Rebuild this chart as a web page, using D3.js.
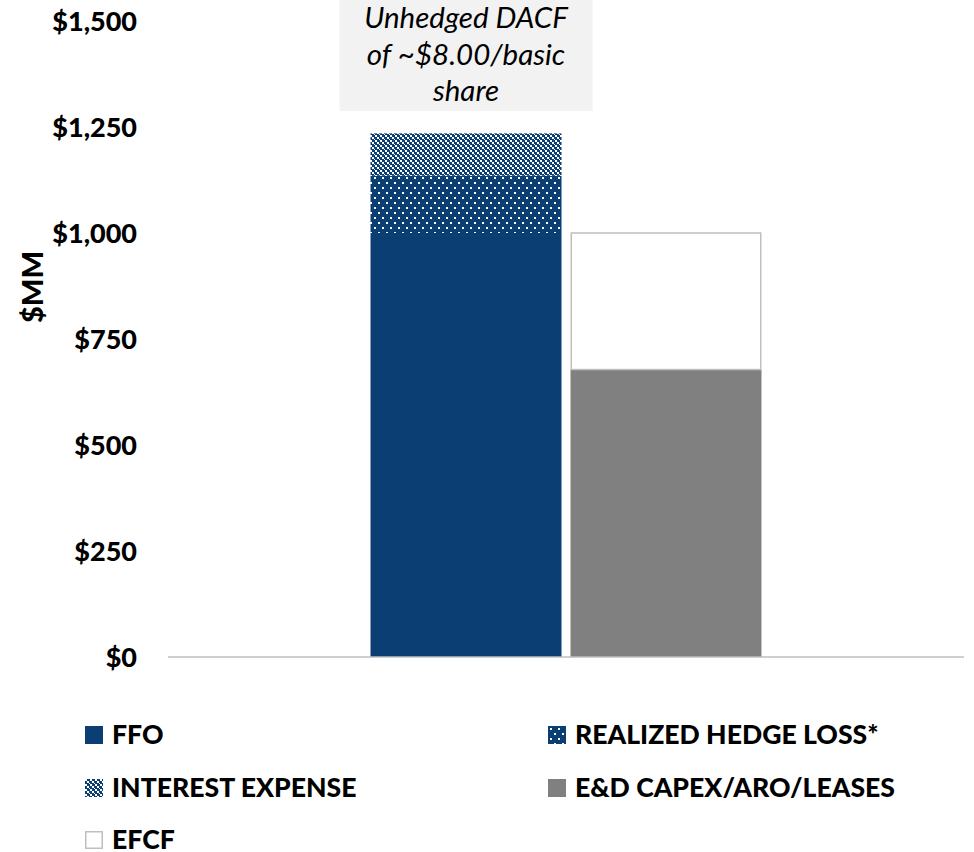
<!DOCTYPE html>
<html>
<head>
<meta charset="utf-8">
<script src="https://cdn.jsdelivr.net/npm/d3@7"></script>
<style>
  body { margin: 0; background: #fff; }
  svg text { font-family: Lato, "Open Sans", sans-serif; }
</style>
</head>
<body>
<svg width="974" height="852"></svg>
<script>
// bars (two stacked columns)
var bars = ["sources", "uses"];
var seriesNames = ["FFO", "REALIZED HEDGE LOSS*", "INTEREST EXPENSE", "E&D CAPEX/ARO/LEASES", "EFCF"];
var seriesBar = ["sources", "sources", "sources", "uses", "uses"];
var seriesValues = [1000, 135, 100, 678, 322];
var yTicks = [0, 250, 500, 750, 1000, 1250, 1500];
var noteLines = ["Unhedged DACF", "of ~$8.00/basic", "share"];

var NAVY = "#0b3e73";

var svg = d3.select("svg"),
    width = +svg.attr("width"),
    height = +svg.attr("height");

var plot = {left: 168, right: 964, top: 21, bottom: 657};

var y = d3.scaleLinear().domain([0, 1500]).range([plot.bottom, plot.top]);
var x0 = d3.scaleBand().domain(["all"]).range([plot.left, plot.right])
    .paddingInner(0).paddingOuter(0.518);
var x1 = d3.scaleBand().domain(bars).range([0, x0.bandwidth()]).paddingInner(0.045);

// patterns (integer aligned so the pixels stay crisp)
var defs = svg.append("defs");
var dots = defs.append("pattern").attr("id", "dots")
    .attr("patternUnits", "userSpaceOnUse").attr("width", 8).attr("height", 10)
    .attr("x", 2).attr("y", 2);
dots.append("rect").attr("width", 8).attr("height", 10).attr("fill", NAVY);
dots.append("rect").attr("x", 0).attr("y", 0).attr("width", 2).attr("height", 2).attr("fill", "#fff");
dots.append("rect").attr("x", 4).attr("y", 5).attr("width", 2).attr("height", 2).attr("fill", "#fff");

var checks = defs.append("pattern").attr("id", "checks")
    .attr("patternUnits", "userSpaceOnUse").attr("width", 5).attr("height", 5)
    .attr("x", 0).attr("y", 0);
checks.append("rect").attr("width", 5).attr("height", 5).attr("fill", NAVY);
checks.append("rect").attr("x", 0).attr("y", 0).attr("width", 2).attr("height", 2).attr("fill", "#fff");
checks.append("rect").attr("x", 2).attr("y", 2).attr("width", 2).attr("height", 2).attr("fill", "#fff");
checks.append("rect").attr("x", 4).attr("y", 4).attr("width", 1).attr("height", 1).attr("fill", "#fff");

var fills = ["#0b3e73", "url(#dots)", "url(#checks)", "#808080", "#ffffff"];
var strokes = ["none", "none", "none", "none", "#bfbfbf"];

// stack the segments per bar
var segs = [];
var base = {};
seriesNames.forEach(function(name, i) {
  var b = seriesBar[i];
  var y0 = base[b] || 0;
  segs.push({name: name, bar: b, y0: y0, y1: y0 + seriesValues[i], i: i});
  base[b] = y0 + seriesValues[i];
});

// annotation box over first bar
var boxW = 253;
var cx = x0("all") + x1("sources") + x1.bandwidth() / 2;
svg.append("rect")
  .attr("x", cx - boxW / 2).attr("y", -5)
  .attr("width", boxW).attr("height", 116)
  .attr("fill", "#f2f2f2");
svg.append("g").selectAll("text")
  .data(noteLines)
  .enter().append("text")
  .attr("x", cx)
  .attr("y", function(d, i) { return 28 + i * 36.5; })
  .attr("text-anchor", "middle")
  .style("font-style", "italic")
  .style("font-size", "29.5px")
  .attr("fill", "#000")
  .text(function(d) { return d; });

// bars
svg.append("g").selectAll("rect")
  .data(segs)
  .enter().append("rect")
  .attr("x", function(d) { return x0("all") + x1(d.bar) + (d.i == 4 ? 0.75 : 0); })
  .attr("width", function(d) { return x1.bandwidth() - (d.i == 4 ? 1.5 : 0); })
  .attr("y", function(d) { return y(d.y1); })
  .attr("height", function(d) { return y(d.y0) - y(d.y1); })
  .attr("fill", function(d) { return fills[d.i]; })
  .attr("stroke", function(d) { return strokes[d.i]; })
  .attr("stroke-width", 1.5);

// y axis: labels only, no line
var yAxis = svg.append("g")
  .attr("transform", "translate(137,0)")
  .call(d3.axisLeft(y).tickValues(yTicks).tickSize(0).tickPadding(0)
    .tickFormat(function(d) { return "$" + d3.format(",")(d); }));
yAxis.select(".domain").remove();
yAxis.selectAll("text")
  .style("font-family", "Lato, sans-serif")
  .style("font-weight", "900")
  .style("font-size", "27px")
  .attr("fill", "#000")
  .attr("dy", "0.35em");

// baseline
svg.append("line")
  .attr("x1", plot.left).attr("x2", plot.right)
  .attr("y1", y(0)).attr("y2", y(0))
  .attr("stroke", "#bfbfbf").attr("stroke-width", 1.5);

// y title
svg.append("text")
  .attr("transform", "translate(43,287) rotate(-90)")
  .attr("text-anchor", "middle")
  .style("font-weight", "900")
  .style("font-size", "29px")
  .text("$MM");

// legend
var legendPos = [
  {x: 85, y: 726}, {x: 548, y: 726},
  {x: 85, y: 779}, {x: 548, y: 779},
  {x: 85, y: 831}
];
var legend = svg.append("g").selectAll("g")
  .data(seriesNames)
  .enter().append("g")
  .attr("transform", function(d, i) { return "translate(" + legendPos[i].x + "," + legendPos[i].y + ")"; });
legend.append("rect")
  .attr("x", function(d, i) { return i == 4 ? 0.75 : 0; })
  .attr("y", function(d, i) { return i == 4 ? 0.75 : 0; })
  .attr("width", function(d, i) { return i == 4 ? 16.5 : 18; })
  .attr("height", function(d, i) { return i == 4 ? 16.5 : 18; })
  .attr("fill", function(d, i) { return fills[i]; })
  .attr("stroke", function(d, i) { return strokes[i]; })
  .attr("stroke-width", 1.5);
legend.append("text")
  .attr("x", 27)
  .attr("y", 18)
  .style("font-weight", "900")
  .style("font-size", "26.6px")
  .text(function(d) { return d; });
</script>
</body>
</html>
